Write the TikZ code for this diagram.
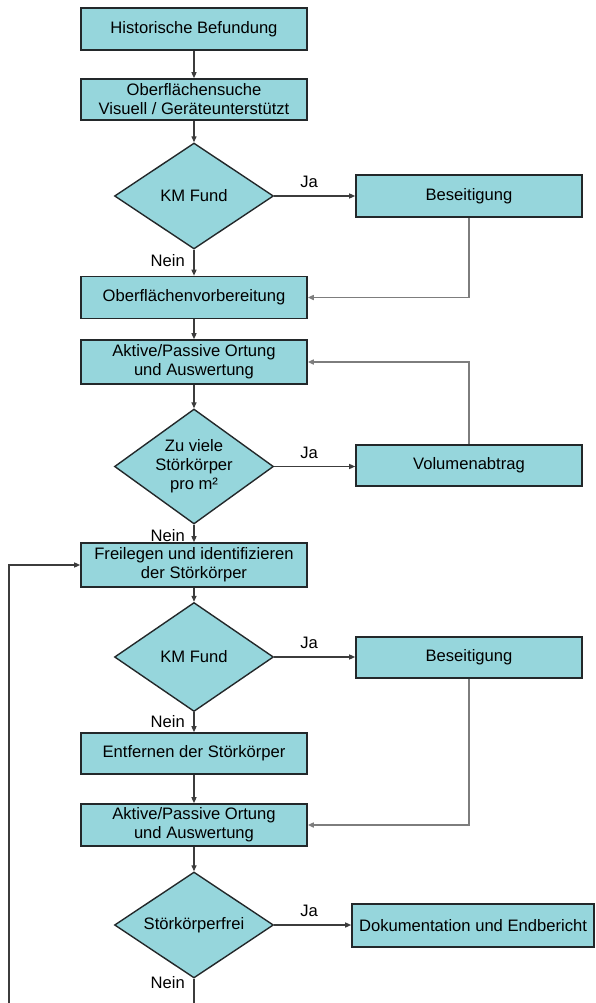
\documentclass[tikz,border=0pt]{standalone}
\usepackage{fontspec}
\setmainfont{Liberation Sans}
\usepackage{tikz}
\usetikzlibrary{arrows.meta,positioning,calc,shapes.geometric}
\usepackage{xcolor}
\definecolor{ink}{RGB}{35,40,42}
\definecolor{cyanbox}{RGB}{150,214,220}
\definecolor{wire}{RGB}{60,60,60}
\definecolor{back}{RGB}{125,125,125}
\tikzset{
  stepbox/.style={rectangle,draw=ink,fill=cyanbox,line width=1.6pt,minimum width=226pt,
    minimum height=42pt,inner sep=0pt,align=center,font=\fontsize{16.6}{19}\selectfont},
  query/.style={diamond,draw=ink,fill=cyanbox,line width=1.4pt,minimum width=159pt,
    minimum height=106pt,inner sep=-4pt,align=center,font=\fontsize{16.6}{19}\selectfont},
  arr/.style={-{Triangle[length=6pt,width=5pt]},line width=1.3pt,wire},
  ret/.style={arr,back,line width=1.5pt},
  lab/.style={inner sep=0pt,font=\fontsize{16.6}{19}\selectfont},
}

\begin{document}
\begin{tikzpicture}[x=1pt,y=-1pt]
\useasboundingbox (0,0) rectangle (596,1003);
% main column
\node[stepbox] (hist) at (194,29) {Historische Befundung};
\node[stepbox,minimum height=41pt] (suche) at (194,99.5) {Oberflächensuche\\Visuell / Geräteunterstützt};
\node[query] (km1) at (194,196) {KM Fund};
\node[stepbox] (vorb) at (194,297.5) {Oberflächenvorbereitung};
\node[stepbox,minimum height=44pt] (ort1) at (194,362) {Aktive/Passive Ortung\\und Auswertung};
\node[query,minimum height=107pt] (viele) at (194,466.5) {Zu viele\\Störkörper\\pro m²};
\node[stepbox,minimum height=44pt] (freil) at (194,565) {Freilegen und identifizieren\\der Störkörper};
\node[query,minimum height=109pt] (km2) at (194,657) {KM Fund};
\node[stepbox,minimum height=41pt] (entf) at (194,753.5) {Entfernen der Störkörper};
\node[stepbox] (ort2) at (194,825) {Aktive/Passive Ortung\\und Auswertung};
\node[query] (frei) at (194,925) {Störkörperfrei};
% side column
\node[stepbox] (bes1) at (469,196) {Beseitigung};
\node[stepbox,minimum height=41pt] (vol) at (469,465.5) {Volumenabtrag};
\node[stepbox,minimum height=41pt] (bes2) at (469,657.5) {Beseitigung};
\node[stepbox,minimum width=242pt,minimum height=43pt] (doku) at (473,925.5) {Dokumentation und Endbericht};
% main flow
\draw[arr] (hist) -- (suche);
\draw[arr] (suche) -- (km1);
\draw[arr] (km1) -- (vorb);
\draw[arr] (vorb) -- (ort1);
\draw[arr] (ort1) -- (viele);
\draw[arr] (viele) -- (freil);
\draw[arr] (freil) -- (km2);
\draw[arr] (km2) -- (entf);
\draw[arr] (entf) -- (ort2);
\draw[arr] (ort2) -- (frei);
% Ja / Nein
\foreach \q/\t/\dy in {km1/bes1/-5,viele/vol/-5,km2/bes2/-3,frei/doku/2}{
  \draw[arr] (\q.east) -- (\q.east -| \t.west);
  \node[lab,anchor=south west] (ja-\q) at ([xshift=26pt,yshift=8pt]\q.east) {Ja};
  \node[lab,anchor=north east] (nein-\q) at ([xshift=-9pt,yshift=\dy pt]\q.south) {Nein};
}
% returns
\draw[ret] (bes1.south) |- (vorb.east);
\draw[ret] (vol.north) |- (ort1.east);
\draw[ret] (bes2.south) |- (ort2.east);
% loop back
\coordinate (loopc) at (9,1015);
\draw[arr] (frei.south) |- (loopc) |- (freil.west);
\end{tikzpicture}
\end{document}
